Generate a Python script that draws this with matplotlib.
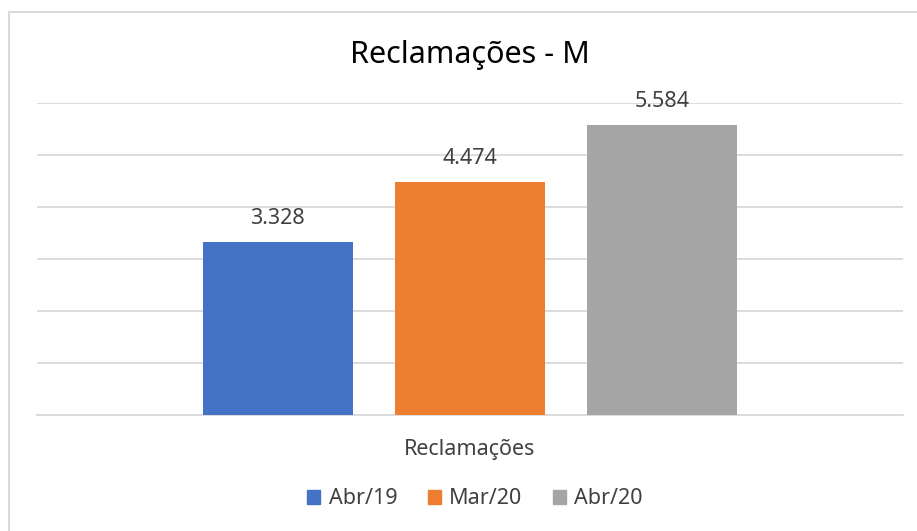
import matplotlib.pyplot as plt
from matplotlib.patches import Rectangle, Patch

plt.rcParams['font.family'] = ['Noto Sans', 'DejaVu Sans']

series = ['Abr/19', 'Mar/20', 'Abr/20']
valores = [3328, 4474, 5584]
rotulos = ['3.328', '4.474', '5.584']
cores = ['#4472C4', '#ED7D31', '#A5A5A5']
categoria = 'Reclamações'

fig = plt.figure(figsize=(9.17, 5.31), dpi=100)
W, H = 917, 531

# borda do gráfico
fig.patches.append(Rectangle((9 / W, -0.1), 1.2, 1 - 12 / H + 0.1, transform=fig.transFigure,
                             fill=False, edgecolor='#D9D9D9', linewidth=1.5))

ax = fig.add_axes([37 / W, (H - 415) / H, (903 - 37) / W, (415 - 103) / H])
pos = [-1, 0, 1]
ax.bar(pos, valores, width=0.78, color=cores, zorder=3)
for x, v, r in zip(pos, valores, rotulos):
    ax.text(x, v + 450, r, ha='center', va='center', fontsize=15.5, color='#404040')

ax.set_xlim(-2.25, 2.25)
ax.set_ylim(0, 6000)
ax.set_yticks(range(0, 7000, 1000))
ax.yaxis.grid(True, color='#D9D9D9', linewidth=1.3)
ax.set_yticklabels([])
ax.tick_params(length=0)
ax.set_xticks([0])
ax.set_xticklabels([categoria], fontsize=15.5, color='#404040')
ax.tick_params(axis='x', pad=17)
for s in ['top', 'right', 'left']:
    ax.spines[s].set_visible(False)
ax.spines['bottom'].set_color('#D9D9D9')
ax.spines['bottom'].set_linewidth(1.3)

fig.text(470 / W, 1 - 55 / H, 'Reclamações - M', ha='center', va='center', fontsize=22, color='#000000')

handles = [Patch(color=c) for c in cores]
fig.legend(handles, series, loc='center', bbox_to_anchor=(475 / W, 1 - 499 / H), ncol=3,
           frameon=False, fontsize=15.5, handlelength=0.6, handleheight=0.6,
           columnspacing=1.4, handletextpad=0.4, labelcolor='#404040')

fig.savefig('out.png', dpi=100)
